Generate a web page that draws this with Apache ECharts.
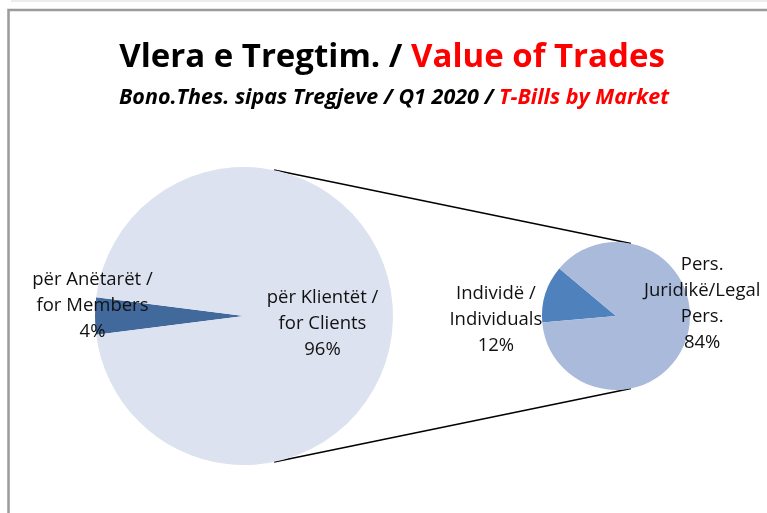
<!DOCTYPE html>
<html>
<head>
<meta charset="utf-8">
<script src="https://cdn.jsdelivr.net/npm/echarts@6/dist/echarts.min.js"></script>
<style>
  html, body { margin: 0; padding: 0; background: #fff; }
  #chart { width: 767px; height: 513px; }
</style>
</head>
<body>
<div id="chart"></div>
<script>
// data
const mainNames = ['për Anëtarët /\nfor Members', 'për Klientët /\nfor Clients']
const mainValues = [4, 96]
const subNames = ['Individë /\nIndividuals', 'Pers.\nJuridikë/Legal\nPers.']
const subValues = [12, 84]

const mainColors = ['#41699c', '#dce2ef']
const subColors = ['#4f81bd', '#a9badb']

// pie geometry
const mainCenter = [244, 316]
const mainRadius = 149
const subCenter = [616, 316]
const subRadius = 74

const FONT = '"Open Sans", Lato, sans-serif'

// offsets of labels from their default inside position
const mainLabelShift = [[-74, -10], [1, 8]]
const subLabelShift = [[-82, 16], [48, -24]]

// outer tangent lines between the two pies
function connectors() {
  const dx = subCenter[0] - mainCenter[0]
  const dy = subCenter[1] - mainCenter[1]
  const d = Math.sqrt(dx * dx + dy * dy)
  const phi = Math.atan2(dy, dx)
  const th = Math.acos((mainRadius - subRadius) / d)
  const lines = []
  ;[-1, 1].forEach(function (s) {
    const a = phi + s * th
    lines.push({
      type: 'line',
      silent: true,
      shape: {
        x1: mainCenter[0] + mainRadius * Math.cos(a),
        y1: mainCenter[1] + mainRadius * Math.sin(a),
        x2: subCenter[0] + subRadius * Math.cos(a),
        y2: subCenter[1] + subRadius * Math.sin(a)
      },
      style: { stroke: '#000', lineWidth: 1.5 }
    })
  })
  return lines
}

const chart = echarts.init(document.getElementById('chart'))

const labelStyle = {
  show: true,
  position: 'inside',
  color: '#111',
  fontFamily: FONT,
  fontSize: 18.5,
  lineHeight: 26,
  align: 'center'
}

chart.setOption({
  animation: false,
  title: [
    {
      text: '{a|Vlera e Tregtim. / }{b|Value of Trades}',
      left: 387,
      textAlign: 'center',
      top: 36,
      textStyle: {
        rich: {
          a: { fontFamily: FONT, fontSize: 33, fontWeight: 'bold', color: '#000' },
          b: { fontFamily: FONT, fontSize: 33, fontWeight: 'bold', color: '#ff0000' }
        }
      }
    },
    {
      text: '{a|Bono.Thes. sipas Tregjeve / Q1 2020 / }{b|T-Bills by Market}',
      left: 389,
      textAlign: 'center',
      top: 82,
      textStyle: {
        rich: {
          a: { fontFamily: FONT, fontSize: 21.5, fontWeight: 'bold', fontStyle: 'italic', color: '#000' },
          b: { fontFamily: FONT, fontSize: 21.5, fontWeight: 'bold', fontStyle: 'italic', color: '#ff0000' }
        }
      }
    }
  ],
  graphic: [
    { type: 'rect', silent: true, shape: { x: 11, y: 0, width: 760, height: 2 }, style: { fill: '#ececec' } },
    { type: 'rect', silent: true, shape: { x: 8.5, y: 10, width: 800, height: 600 },
      style: { fill: 'none', stroke: '#9b9b9b', lineWidth: 2.5 } }
  ].concat(connectors()),
  series: [
    {
      type: 'pie',
      center: mainCenter,
      radius: mainRadius,
      startAngle: 180 + mainValues[0] * 1.8,
      clockwise: true,
      silent: true,
      itemStyle: { borderWidth: 0 },
      label: Object.assign({ formatter: '{b}\n{c}%' }, labelStyle),
      labelLine: { show: false },
      labelLayout: function (p) {
        const s = mainLabelShift[p.dataIndex]
        return { dx: s[0], dy: s[1] }
      },
      data: mainNames.map(function (n, i) {
        return { name: n, value: mainValues[i], itemStyle: { color: mainColors[i] } }
      })
    },
    {
      type: 'pie',
      center: subCenter,
      radius: subRadius,
      startAngle: 185,
      clockwise: true,
      silent: true,
      itemStyle: { borderWidth: 0 },
      label: Object.assign({ formatter: '{b}\n{c}%' }, labelStyle),
      labelLine: { show: false },
      labelLayout: function (p) {
        const s = subLabelShift[p.dataIndex]
        return { dx: s[0], dy: s[1] }
      },
      data: subNames.map(function (n, i) {
        return { name: n, value: subValues[i], itemStyle: { color: subColors[i] } }
      })
    }
  ]
})
</script>
</body>
</html>
